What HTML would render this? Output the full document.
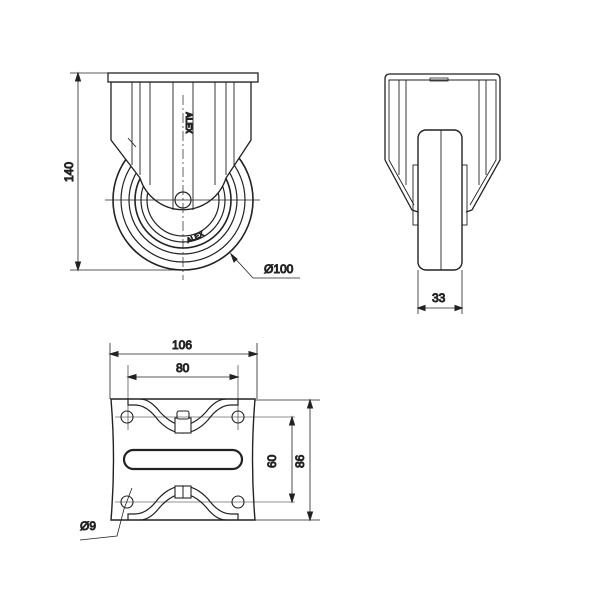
<!DOCTYPE html>
<html><head><style>body{margin:0;background:#fff}svg{display:block}text{font-family:"Liberation Sans",sans-serif;font-size:12px;fill:#333}</style></head><body>
<svg width="600" height="600" viewBox="0 0 600 600" fill="none" stroke="#222" stroke-width="1">
<!-- FRONT VIEW -->
<g stroke-width="1.2">
<circle cx="183" cy="200" r="70" stroke-width="1.6"/>
<circle cx="183" cy="200" r="62"/>
<circle cx="183" cy="200" r="54"/>
<circle cx="183" cy="200" r="48" stroke-width="1.6"/>
<circle cx="183" cy="200" r="42"/>
<circle cx="183" cy="200" r="36"/>
</g>
<path d="M111 82 L111 140 L140 178 A45 45 0 0 0 226 178 L251 140 L251 82 Z" fill="#fff" stroke-width="1.3"/>
<rect x="108" y="73" width="150" height="9" fill="#fff" stroke-width="1.3"/>
<g stroke-width="0.9">
<line x1="132" y1="82" x2="132" y2="165"/><line x1="140" y1="82" x2="140" y2="175"/>
<line x1="150" y1="82" x2="150" y2="185"/><line x1="173" y1="82" x2="173" y2="210"/>
<line x1="193" y1="82" x2="193" y2="210"/><line x1="215" y1="82" x2="215" y2="185"/>
<line x1="226" y1="82" x2="226" y2="175"/><line x1="234" y1="82" x2="234" y2="165"/>
<line x1="128" y1="138" x2="136" y2="147"/>
</g>
<circle cx="183" cy="200" r="8" fill="#fff" stroke-width="1.2"/>
<line x1="183" y1="95" x2="183" y2="280" stroke-dasharray="10,3,2,3" stroke-width="0.7"/>
<line x1="105" y1="200" x2="260" y2="200" stroke-width="0.7"/>
<text x="0" y="0" transform="translate(186,112) rotate(90)" style="font-size:8px;font-weight:bold">ALEX</text>
<text x="0" y="0" transform="translate(188,243) rotate(-25)" style="font-size:7px">ALEX</text>
<!-- 140 dim -->
<line x1="70" y1="73" x2="108" y2="73" stroke-width="0.8"/>
<line x1="70" y1="270" x2="183" y2="270" stroke-width="0.8"/>
<line x1="78" y1="73" x2="78" y2="270" stroke-width="0.8"/>
<path d="M78 73 l-2.5 8 h5z M78 270 l-2.5 -8 h5z" fill="#222"/>
<text transform="translate(73,182) rotate(-90)">140</text>
<!-- D100 -->
<path d="M231 254 L253 278 L300 278" stroke-width="0.8"/>
<path d="M231 254 l3 8 l3 -3z" fill="#222"/>
<text x="264" y="273">Ø100</text>
<!-- SIDE VIEW -->
<path d="M385 160 L385 79 Q385 74 390 74 L495 74 Q500 74 500 79 L500 160 L472 210 L466 212 M385 160 L412 210 L418 212" stroke-width="1.3"/>
<path d="M389 160 L389 80 L496 80 L496 160 L470 205 M389 160 L414 205" stroke-width="0.9"/>
<line x1="399" y1="80" x2="399" y2="175" stroke-width="0.9"/><line x1="486" y1="80" x2="486" y2="175" stroke-width="0.9"/>
<line x1="406" y1="80" x2="406" y2="185" stroke-width="0.9"/><line x1="479" y1="80" x2="479" y2="185" stroke-width="0.9"/>
<rect x="430" y="78" width="18" height="3" stroke-width="0.8"/>
<rect x="413" y="165" width="6" height="60" stroke-width="0.9"/><rect x="461" y="165" width="6" height="60" stroke-width="0.9"/>
<rect x="418" y="130" width="44" height="140" rx="8" fill="#fff" stroke-width="1.4"/>
<line x1="441" y1="130" x2="441" y2="270" stroke-width="0.9"/>
<line x1="418" y1="270" x2="418" y2="314" stroke-width="0.8"/><line x1="462" y1="270" x2="462" y2="314" stroke-width="0.8"/>
<line x1="418" y1="308" x2="462" y2="308" stroke-width="0.8"/>
<path d="M418 308 l7 -2.5 v5z M462 308 l-7 -2.5 v5z" fill="#222"/>
<text x="432" y="302">33</text>
<!-- BOTTOM VIEW -->
<path d="M111 399 L255 399 Q250 460 255 520 L111 520 Q116 460 111 399 Z" stroke-width="1.4"/>
<path d="M140 399 Q150 399 160 412 Q172 425 183 425 Q194 425 206 412 Q216 399 226 399" stroke-width="1.2"/>
<path d="M128 399 L128 405 L135 405 Q147 405 158 420 Q170 433 183 433 Q196 433 208 420 Q219 405 231 405 L238 405 L238 399" stroke-width="1.2"/>
<path d="M140 520 Q150 520 160 507 Q172 494 183 494 Q194 494 206 507 Q216 520 226 520" stroke-width="1.2"/>
<path d="M128 520 L128 514 L135 514 Q147 514 158 499 Q170 486 183 486 Q196 486 208 499 Q219 514 231 514 L238 514 L238 520" stroke-width="1.2"/>
<rect x="175" y="418" width="16" height="15" fill="#fff" stroke-width="1.1"/>
<rect x="177" y="411" width="12" height="8" rx="2" fill="#fff" stroke-width="1.1"/>
<rect x="175" y="486" width="16" height="12" fill="#fff" stroke-width="1.1"/><line x1="183" y1="486" x2="183" y2="498"/>
<rect x="124" y="450" width="118" height="19" rx="9.5" stroke-width="2.2"/>
<g stroke-width="1.1"><circle cx="127" cy="417" r="6" fill="#fff"/><circle cx="238" cy="417" r="6" fill="#fff"/><circle cx="127" cy="502" r="6" fill="#fff"/><circle cx="238" cy="502" r="6" fill="#fff"/></g>
<g stroke-width="0.6"><line x1="115" y1="417" x2="295" y2="417"/><line x1="115" y1="502" x2="295" y2="502"/>
<line x1="128" y1="365" x2="128" y2="430"/><line x1="238" y1="365" x2="238" y2="430"/></g>
<g stroke-width="0.8">
<line x1="110" y1="343" x2="110" y2="399"/><line x1="257" y1="343" x2="257" y2="399"/>
<line x1="110" y1="354" x2="257" y2="354"/>
<line x1="128" y1="377" x2="238" y2="377"/>
<line x1="255" y1="400" x2="320" y2="400"/><line x1="255" y1="520" x2="320" y2="520"/>
<line x1="292" y1="417" x2="292" y2="502"/><line x1="310" y1="400" x2="310" y2="520"/>
<path d="M132 488 L124 509 L117 536 L80 540"/>
</g>
<path d="M110 354 l8 -2.5 v5z M257 354 l-8 -2.5 v5z M128 377 l8 -2.5 v5z M238 377 l-8 -2.5 v5z M292 417 l-2.5 8 h5z M292 502 l-2.5 -8 h5z M310 400 l-2.5 8 h5z M310 520 l-2.5 -8 h5z" fill="#222"/>
<text x="172" y="349">106</text>
<text x="176" y="372">80</text>
<text transform="translate(276,468) rotate(-90)">60</text>
<text transform="translate(304,468) rotate(-90)">86</text>
<text x="80" y="530">Ø9</text>
</svg>
</body></html>
